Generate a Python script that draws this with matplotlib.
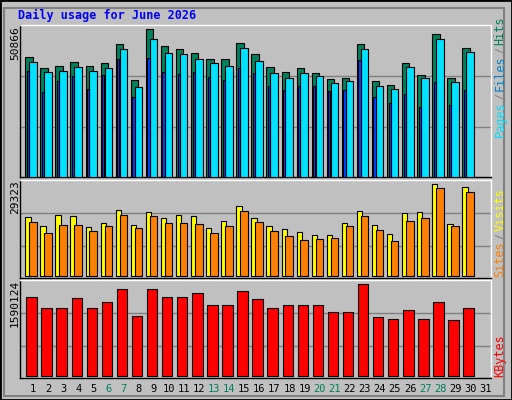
import matplotlib
matplotlib.use("Agg")
import matplotlib.pyplot as plt
from matplotlib.patches import Rectangle

days = list(range(1, 32))
hits = [41199,37401,38092,39473,38092,39127,45687,33258,50866,44996,43961,42580,40508,40508,46032,
        42234,37746,36020,37401,35675,33603,33949,45687,32913,31532,39127,34984,49140,33949,44306]
files = [39473,36020,36365,37746,36365,37401,43961,30841,47413,42580,42234,40508,39127,38092,44306,
         39818,35675,33949,35675,34639,32222,32913,43961,31187,30151,37746,33949,47413,32568,42925]
pages = [36365,29115,33028,34639,30151,34984,40508,27389,40853,36020,35330,36020,34294,33258,37401,
         35675,31187,29806,31187,31187,29460,29806,40163,27389,25318,28425,23937,32568,24627,29806]
visits = [18805,15936,19442,19123,15617,16892,21036,16255,20398,18486,19442,19123,15299,17530,22310,
          18486,15936,14980,14024,13068,13068,16892,20717,16255,13386,20079,20398,29323,16573,28366]
sites = [17211,13705,16255,16255,14342,15936,19442,15299,19123,16892,16892,16573,13705,15936,20717,
         17211,14342,12749,11474,11793,12111,15936,19123,14661,11155,17530,18486,28047,15936,26772]
kbytes = [1363799,1172287,1172287,1346389,1172287,1276748,1503081,1033005,1503081,1363799,1363799,
          1433440,1224517,1224517,1468260,1328979,1172287,1224517,1224517,1224517,1102646,1102646,
          1590124,1015595,980775,1137467,980775,1276748,963364,1172287]
weekend = [6, 7, 13, 14, 20, 21, 27, 28]

W, H = 512, 400
fig = plt.figure(figsize=(W/100, H/100), dpi=100)
fig.patch.set_facecolor('#c0c0c0')
fig.patches.append(Rectangle((0, 0), 1, 1, transform=fig.transFigure, fill=False,
                             edgecolor='black', lw=2))
fig.patches.append(Rectangle((4/W, 4/H), (W-12)/W, (H-12)/H, transform=fig.transFigure, fill=False,
                             edgecolor='#808080', lw=1.5))

mono = 'DejaVu Sans Mono'
C_HITS, C_FILES, C_PAGES = '#00805c', '#0040ff', '#00e0ff'
C_VIS, C_SITES, C_KB = '#ffff00', '#ff8000', '#ff0000'

def mkax(top, bottom):
    x0, x1 = 20, 490.7
    ax = fig.add_axes([x0/W, 1-bottom/H, (x1-x0)/W, (bottom-top)/H])
    ax.set_facecolor('#c0c0c0')
    ax.set_xlim(0.12, 31.35)
    ax.set_xticks([]); ax.set_yticks([])
    for s in ax.spines.values():
        s.set_color('black'); s.set_linewidth(1)
    ax.spines['right'].set_color('white'); ax.spines['top'].set_color('white')
    return ax

x = days[:30]

def bars(ax, vals, lo, hi, color):
    xs = [d + (lo+hi)/2 for d in x]
    ax.bar(xs, vals, width=hi-lo, color=color, edgecolor='black', linewidth=0.8, zorder=3)

ax1 = mkax(25, 176.7)
ax1.set_ylim(0, 52349)
for g in (17150, 34750):
    ax1.axhline(g, color='#808080', lw=1, zorder=1)
bars(ax1, hits, -0.53, -0.04, C_HITS)
bars(ax1, files, -0.27, 0.23, C_PAGES)
bars(ax1, pages, -0.43, -0.28, C_FILES)

ax2 = mkax(180.3, 278)
ax2.set_ylim(-540, 30598)
for g in (9562, 20080):
    ax2.axhline(g, color='#808080', lw=1, zorder=1)
bars(ax2, visits, -0.53, -0.18, C_VIS)
bars(ax2, sites, -0.27, 0.23, C_SITES)

ax3 = mkax(280, 378)
ax3.set_ylim(-40000, 1664900)
for g in (511500, 1085600):
    ax3.axhline(g, color='#808080', lw=1, zorder=1)
bars(ax3, kbytes, -0.46, 0.23, C_KB)

fig.text(18/W, 1-15/H, 'Daily usage for June 2026', color='#0000ff', family=mono,
         weight='bold', fontsize=8.5, va='center', ha='left')
fig.text(15/W, 1-43/H, '50866', rotation=90, family=mono, fontsize=8, ha='center', va='center')
fig.text(15/W, 1-197/H, '29323', rotation=90, family=mono, fontsize=8, ha='center', va='center')
fig.text(15/W, 1-303/H, '1590124', rotation=90, family=mono, fontsize=8, ha='center', va='center')

def vstack(parts, xpx, ybottom, step=7.0):
    y = ybottom
    for txt, col in parts:
        fig.text(xpx/W, 1-y/H, txt, rotation=90, family=mono, fontsize=8.5, color=col,
                 ha='center', va='bottom')
        y -= len(txt) * step + 2
vstack([('Pages', C_PAGES), ('/', '#808080'), ('Files', '#0080c0'), ('/', '#808080'), ('Hits', C_HITS)], 500, 137)
vstack([('Sites', C_SITES), ('/', '#808080'), ('Visits', C_VIS)], 500, 277)
vstack([('KBytes', C_KB)], 500, 377)

for d in days:
    xp = 33.3 + (d-1)*15.07
    fig.text(xp/W, 1-389/H, str(d), family=mono, fontsize=7.5, ha='center', va='center',
             color=C_HITS if d in weekend else 'black')

fig.savefig('out.png', dpi=100, facecolor=fig.get_facecolor())
